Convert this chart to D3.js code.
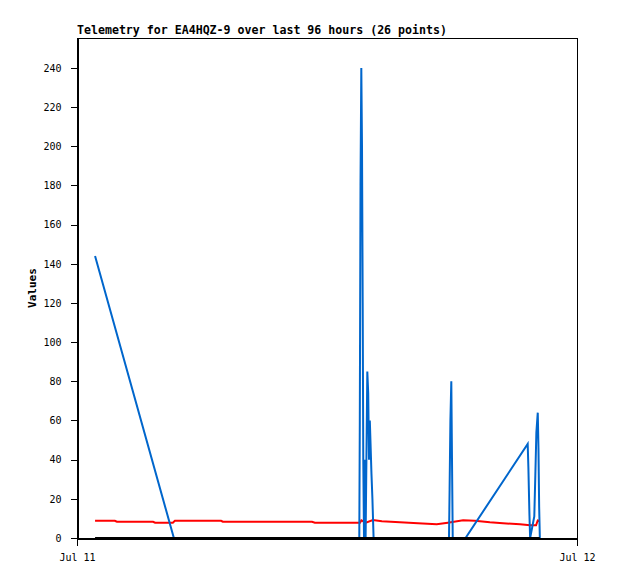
<!DOCTYPE html>
<html>
<head>
<meta charset="utf-8">
<script src="https://cdn.jsdelivr.net/npm/d3@7"></script>
<style>
  body { margin: 0; background: #fff; }
  text { font-family: "DejaVu Sans Mono", "Liberation Mono", monospace; }
</style>
</head>
<body>
<svg id="chart"></svg>
<script>
// times are minutes after midnight, Jul 11
const day = new Date(2023, 6, 11);
const blueMinutes = [52, 279, 813.0, 814.5, 816.5, 818.8, 820.8, 822.8, 824.5, 826.6, 828.9, 831.2, 833.5, 836.1,
  838.7, 841.0, 843.3, 845.6, 848.0, 850.8, 854.2,
  1071.4, 1073.1, 1075.4, 1078.0, 1080.0, 1082.1, 1119, 1298, 1300, 1303, 1305, 1317, 1320, 1323, 1327, 1329, 1331, 1333];
const blueValues = [144, 0, 0, 60, 180, 240, 200, 120, 40, 0, 40, 0, 40, 85, 74, 40, 60, 47, 33, 20, 0,
  0, 25, 60, 80, 40, 0, 0, 48, 36, 12, 0, 11, 32, 54, 64, 46, 16, 0];
const redMinutes = [52, 109, 115, 219, 225, 276, 282, 415, 420, 677, 685, 815, 819, 832, 852, 878, 930, 982,
  1036, 1068, 1112, 1146, 1189, 1227, 1276, 1305, 1322, 1327, 1333];
const redValues = [8.8, 8.8, 8.3, 8.3, 7.8, 7.8, 8.8, 8.8, 8.3, 8.3, 7.8, 7.8, 9.0, 7.8, 9.2, 8.6, 8.0, 7.5,
  7.0, 7.8, 9.0, 8.8, 8.0, 7.5, 7.0, 6.5, 6.5, 9.0, 8.7];
const blackMinutes = [52, 279, 815, 852, 1075, 1119, 1305, 1333];
const blackValues = [0, 0, 0, 0, 0, 0, 0, 0];
const yTicks = [0, 20, 40, 60, 80, 100, 120, 140, 160, 180, 200, 220, 240];
const xTicks = [new Date(2023, 6, 11), new Date(2023, 6, 12)];

const width = 618, height = 579;
const margin = { top: 38, right: 41, bottom: 41, left: 77 };

const svg = d3.select("#chart").attr("width", width).attr("height", height);

const x = d3.scaleTime()
  .domain(xTicks)
  .range([margin.left, width - margin.right]);
const y = d3.scaleLinear()
  .domain([0, 255.3])
  .range([height - margin.bottom, margin.top]);

const toDate = (m) => new Date(day.getTime() + m * 60000);

// frame
svg.append("rect")
  .attr("x", margin.left + 0.5)
  .attr("y", margin.top + 0.5)
  .attr("width", width - margin.left - margin.right)
  .attr("height", height - margin.top - margin.bottom)
  .attr("fill", "none")
  .attr("stroke", "#000")
  .attr("stroke-width", 1);

// axes
const yAxis = svg.append("g")
  .attr("transform", `translate(${margin.left + 0.5},0)`)
  .call(d3.axisLeft(y).tickValues(yTicks).tickSize(7).tickPadding(9).tickSizeOuter(0));
const xAxis = svg.append("g")
  .attr("transform", `translate(0,${height - margin.bottom + 0.5})`)
  .call(d3.axisBottom(x).tickValues(xTicks).tickFormat(d3.timeFormat("%b %d")).tickSize(7).tickPadding(8).tickSizeOuter(0));
[yAxis, xAxis].forEach((g) => {
  g.selectAll("text").attr("font-size", "10px").attr("fill", "#000")
    .style("font-family", "'DejaVu Sans Mono', monospace");
  g.selectAll("line, path").attr("stroke", "#000").attr("shape-rendering", "crispEdges");
});

// series
function drawSeries(minutes, values, color) {
  const pts = minutes.map((m, i) => ({ t: toDate(m), v: values[i] }));
  svg.append("path")
    .datum(pts)
    .attr("fill", "none")
    .attr("stroke", color)
    .attr("stroke-width", 2)
    .attr("stroke-linejoin", "miter")
    .attr("d", d3.line().x((d) => x(d.t)).y((d) => y(d.v)));
}
drawSeries(redMinutes, redValues, "#ff0000");
drawSeries(blueMinutes, blueValues, "#0066cc");
drawSeries(blackMinutes, blackValues, "#000000");

// title
svg.append("text")
  .attr("x", margin.left)
  .attr("y", 34)
  .attr("font-size", "11.6px")
  .attr("font-weight", "bold")
  .text("Telemetry for EA4HQZ-9 over last 96 hours (26 points)");

// y label
svg.append("text")
  .attr("transform", `translate(36,${(margin.top + height - margin.bottom) / 2}) rotate(-90)`)
  .attr("text-anchor", "middle")
  .attr("font-size", "11px")
  .attr("font-weight", "bold")
  .text("Values");
</script>
</body>
</html>
